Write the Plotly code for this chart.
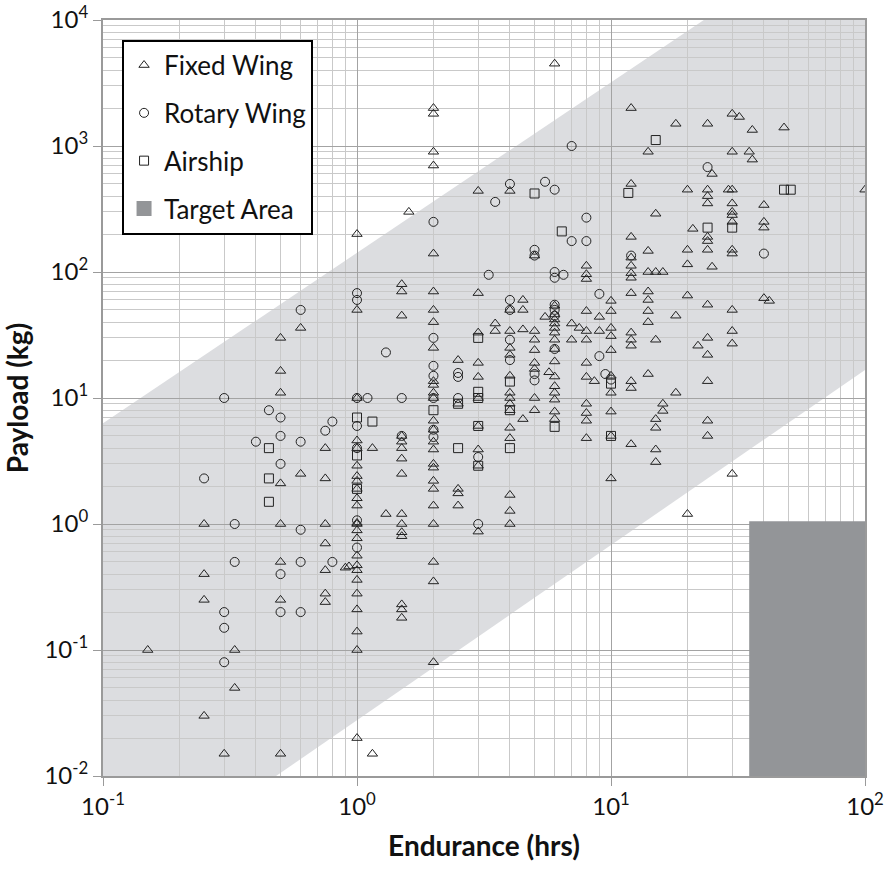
import plotly.graph_objects as go

# ---------------- data ----------------
fixed_x = (
    [0.15] + [0.25]*4 + [0.3] + [0.33]*2 + [0.5]*8 + [0.6]*2 + [0.75]*7 + [0.9, 0.93]
    + [1]*24 + [1.15]*2 + [1.3] + [1.5]*15 + [1.6] + [2]*26 + [2.5]*5 + [3]*10
    + [3.5]*2 + [4]*15 + [4.5]*4 + [5]*8 + [5.5] + [5.7] + [6]*16 + [7]*2 + [7.5]
    + [8]*12 + [8.6] + [9]*2 + [10]*10 + [12]*14 + [14]*8 + [15]*7 + [16]*3
    + [18]*3 + [20]*5 + [21] + [22] + [24]*13 + [25]*2 + [29] + [30]*13 + [32]
    + [35] + [36]*2 + [40]*4 + [42] + [48] + [100]
)
fixed_y = (
    [0.1]
    + [1.0, 0.4, 0.25, 0.03]
    + [0.015]
    + [0.1, 0.05]
    + [30, 16.4, 11, 2.1, 1.0, 0.5, 0.25, 0.015]
    + [36, 2.5]
    + [4, 2.3, 1.0, 0.7, 0.43, 0.28, 0.24]
    + [0.45, 0.46]
    + [200, 50, 10, 4.6, 4.0, 2.9, 2.4, 2.2, 1.9, 1.6, 1.4, 1.0, 1.02, 0.89, 0.77,
       0.56, 0.47, 0.43, 0.36, 0.28, 0.21, 0.14, 0.1, 0.02]
    + [4, 0.015]
    + [1.2]
    + [80, 70, 45, 5, 4.5, 4, 3.3, 2.5, 1.2, 1.0, 0.86, 0.8, 0.23, 0.21, 0.18]
    + [300]
    + [2000, 1800, 900, 700, 140, 70, 50, 40, 25, 13.6, 12.7, 11, 10, 6.6, 5.6, 4.5,
       3.9, 3.0, 2.8, 2.2, 1.9, 1.4, 1.0, 0.5, 0.35, 0.08]
    + [20, 9.0, 1.9, 1.75, 1.4]
    + [440, 68, 33, 19, 14.7, 10, 6, 3.9, 2.9, 0.87]
    + [39, 34]
    + [440, 50, 34, 25, 22, 15, 11, 10, 9, 8, 5.8, 4.8, 1.7, 1.27, 1.0]
    + [60, 50, 35, 6.8]
    + [135, 34, 29, 24, 19, 17, 10, 8]
    + [44]
    + [16]
    + [4500, 54, 46, 42, 39, 36, 33, 29, 24.5, 19.5, 14.8, 12.4, 11, 9.7, 7.8, 6.8]
    + [39, 29]
    + [36]
    + [112, 96, 88, 49, 34, 29, 19, 14.7, 9, 7.6, 6.6, 4.8]
    + [13.6]
    + [44, 34]
    + [59, 49, 36, 31, 24, 15, 11, 7.8, 5, 2.3]
    + [2000, 500, 190, 130, 112, 98, 90, 68, 33, 29, 26, 13.6, 12, 4.3]
    + [900, 147, 100, 70, 60, 49, 40, 15.5]
    + [290, 100, 29, 6.8, 5.8, 3.9, 3.1]
    + [100, 9, 7.9]
    + [1500, 45, 11]
    + [450, 150, 115, 65, 1.2]
    + [220]
    + [26]
    + [1500, 450, 400, 350, 190, 176, 150, 55, 30, 22, 13.6, 6.6, 5]
    + [600, 110]
    + [450]
    + [1800, 900, 450, 350, 300, 283, 250, 150, 140, 50, 34, 27, 2.5]
    + [1700]
    + [900]
    + [1340, 780]
    + [340, 250, 225, 62]
    + [59]
    + [1400]
    + [450]
)

rotary_x = (
    [0.25] + [0.3]*4 + [0.33]*2 + [0.4] + [0.45] + [0.5]*5 + [0.6]*5 + [0.75]
    + [0.8]*2 + [1]*7 + [1.1] + [1.3] + [1.5]*2 + [2]*7 + [2.5]*3 + [3]*2 + [3.3]
    + [3.5] + [4]*5 + [5]*4 + [5.5] + [6]*7 + [6.5] + [7]*2 + [8]*2 + [9]*2
    + [9.5] + [10] + [12] + [24] + [40]
)
rotary_y = (
    [2.3]
    + [10, 0.2, 0.15, 0.08]
    + [1.0, 0.5]
    + [4.5]
    + [8]
    + [7, 5, 3, 0.4, 0.2]
    + [50, 4.5, 0.9, 0.5, 0.2]
    + [5.5]
    + [6.5, 0.5]
    + [68, 60, 10, 6, 4, 1.07, 0.65]
    + [10]
    + [23]
    + [10, 5]
    + [250, 30, 18, 15, 10, 5.6, 4.9]
    + [15.8, 14.7, 10]
    + [3.4, 1.0]
    + [95]
    + [360]
    + [500, 60, 50, 29, 20]
    + [150, 135, 15.5, 13.8]
    + [520]
    + [450, 100, 90, 55, 50, 45, 24.5]
    + [95]
    + [1000, 176]
    + [270, 176]
    + [67, 21.5]
    + [15.5]
    + [14]
    + [135]
    + [680]
    + [140]
)

airship_x = (
    [0.45]*3 + [1]*3 + [1.15] + [2] + [2.5]*2 + [3]*5 + [4]*3 + [5] + [6] + [6.4]
    + [10]*2 + [11.7] + [15] + [24] + [30] + [48] + [51]
)
airship_y = (
    [4, 2.3, 1.5]
    + [7, 3.5, 1.9]
    + [6.5]
    + [8]
    + [4, 9]
    + [30, 11.2, 10, 6, 2.9]
    + [13.5, 8, 4]
    + [420]
    + [5.9]
    + [210]
    + [13, 5]
    + [424]
    + [1115]
    + [225]
    + [225]
    + [450]
    + [450]
)

# envelope band (endurance, payload) corner points
band_x = [0.1, 0.1, 23.2, 100, 100, 0.48]
band_y = [0.01, 6.3, 10000, 10000, 16.7, 0.01]

# target area
target_x = [35, 100]
target_y = [0.01, 1.05]

x_ticks = [0.1, 1, 10, 100]
x_ticktext = ["10<sup>-1</sup>", "10<sup>0</sup>", "10<sup>1</sup>", "10<sup>2</sup>"]
y_ticks = [0.01, 0.1, 1, 10, 100, 1000, 10000]
y_ticktext = ["10<sup>-2</sup>", "10<sup>-1</sup>", "10<sup>0</sup>", "10<sup>1</sup>",
              "10<sup>2</sup>", "10<sup>3</sup>", "10<sup>4</sup>"]

# ---------------- figure ----------------
FONT = "Lato, 'Open Sans', sans-serif"
MK_COLOR = "#222222"
BAND = "#dcdde0"
TARGET = "#939598"

fig = go.Figure()

marker_common = dict(size=9, color=MK_COLOR, line=dict(width=1, color=MK_COLOR))
fig.add_trace(go.Scatter(x=fixed_x, y=fixed_y, mode="markers", name="Fixed Wing",
                         legendgroup="a",
                         marker=dict(symbol="triangle-up-open", **marker_common)))
fig.add_trace(go.Scatter(x=rotary_x, y=rotary_y, mode="markers", name="Rotary Wing",
                         legendgroup="b",
                         marker=dict(symbol="circle-open", **marker_common)))
fig.add_trace(go.Scatter(x=airship_x, y=airship_y, mode="markers", name="Airship",
                         legendgroup="c",
                         marker=dict(symbol="square-open", **marker_common)))
fig.add_trace(go.Scatter(x=[None], y=[None], mode="markers", name="Target Area",
                         legendgroup="d",
                         marker=dict(symbol="square", size=15, color=TARGET)))

path = "M " + " L ".join(f"{x},{y}" for x, y in zip(band_x, band_y)) + " Z"
fig.add_shape(type="path", path=path, xref="x", yref="y", layer="below",
              fillcolor=BAND, line=dict(width=0))
fig.add_shape(type="rect", x0=target_x[0], x1=target_x[1], y0=target_y[0], y1=target_y[1],
              xref="x", yref="y", layer="between", fillcolor=TARGET, line=dict(width=0))

minor_x = [m * 10**e for e in range(-1, 2) for m in range(2, 10)]
minor_y = [m * 10**e for e in range(-2, 4) for m in range(2, 10)]

axis_common = dict(
    type="log",
    showgrid=True, gridcolor="#a3a3a3", gridwidth=1.3,
    showline=True, linecolor="#9a9a9a", linewidth=2, mirror=True,
    ticks="outside", ticklen=8, tickcolor="#9a9a9a", tickwidth=1,
    tickfont=dict(family=FONT, size=24, color="#111"),
    zeroline=False, automargin=False, ticklabeloverflow="allow",
)

fig.update_xaxes(
    range=[-1, 2], tickvals=x_ticks, ticktext=x_ticktext,
    minor=dict(tickvals=minor_x, showgrid=True, gridcolor="#c9c9c9", gridwidth=1.3, ticks=""),
    title=dict(text="<b>Endurance (hrs)</b>", font=dict(family=FONT, size=28, color="#111"),
               standoff=18),
    **axis_common,
)
fig.update_yaxes(
    range=[-2, 4], tickvals=y_ticks, ticktext=y_ticktext,
    minor=dict(tickvals=minor_y, showgrid=True, gridcolor="#c9c9c9", gridwidth=1.3, ticks=""),
    title=dict(text="<b>Payload (kg)</b>", font=dict(family=FONT, size=28, color="#111"),
               standoff=10),
    **axis_common,
)

fig.update_layout(
    width=890, height=875,
    margin=dict(l=103, r=25, t=20, b=99),
    paper_bgcolor="white", plot_bgcolor="white",
    font=dict(family=FONT, color="#111"),
    legend=dict(
        x=0.025, y=0.974, xanchor="left", yanchor="top",
        bgcolor="white", bordercolor="black", borderwidth=2,
        font=dict(family=FONT, size=26, color="#111"),
        tracegroupgap=11, itemsizing="trace",
    ),
)

fig.write_html("out.html")
